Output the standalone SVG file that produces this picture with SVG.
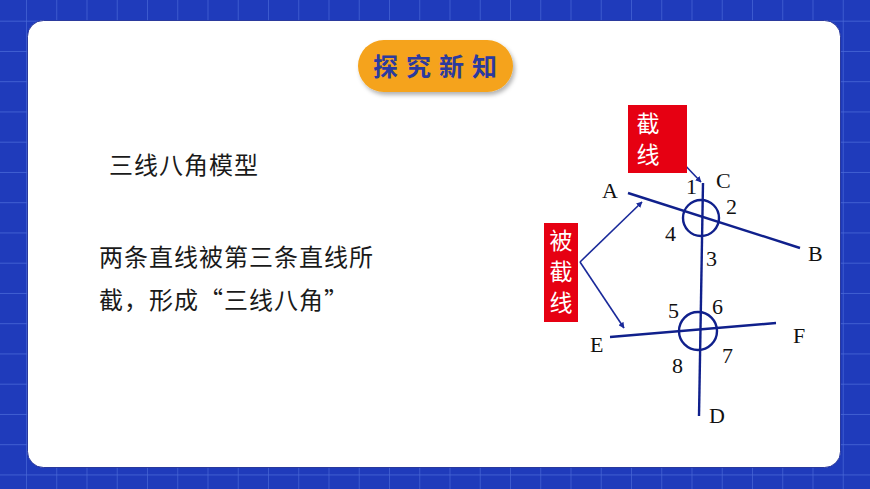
<svg xmlns="http://www.w3.org/2000/svg" width="870" height="489" viewBox="0 0 870 489">
<defs>
<pattern id="grid" x="26" y="20.7" width="30.25" height="30.25" patternUnits="userSpaceOnUse">
<rect width="30.25" height="30.25" fill="#1f3bbb"/>
<path d="M0 0H30.25M0 0V30.25" stroke="#4a6ad8" stroke-width="1.3" fill="none"/>
</pattern>
<marker id="ah" viewBox="0 0 10 10" refX="9" refY="5" markerWidth="6" markerHeight="6" orient="auto" markerUnits="userSpaceOnUse">
<path d="M0 0L10 5L0 10z" fill="#1a2a9a"/>
</marker>
<filter id="sh" x="-10%" y="-20%" width="130%" height="150%">
<feDropShadow dx="2" dy="3" stdDeviation="2" flood-color="#000" flood-opacity="0.3"/>
</filter>
</defs>
<style>
.cj{font-family:"Noto Sans CJK SC","Noto Sans",sans-serif;fill:#1a1a1a;font-size:24px;letter-spacing:1px}
.lb{font-family:"Liberation Serif","Times New Roman",serif;font-size:22px;fill:#111}
.ln{stroke:#10208c;stroke-width:2.4;fill:none}
.ar{stroke:#1a2a9a;stroke-width:1.6;fill:none}
.rb{fill:#e60012}
.wt{font-family:"Noto Sans CJK SC",sans-serif;font-size:23px;fill:#fff;writing-mode:vertical-rl;letter-spacing:8px}
</style>
<rect width="870" height="489" fill="url(#grid)"/>
<rect x="27.5" y="20.5" width="813" height="447" rx="16" fill="#fff" stroke="#10208c" stroke-width="0.8"/>
<g id="title">
<rect x="358" y="40" width="155" height="52" rx="26" fill="#f5a31a" filter="url(#sh)"/>
<text x="439" y="76" text-anchor="middle" font-family="'Noto Sans CJK SC',sans-serif" font-weight="bold" font-size="25" fill="#2b3a9f" letter-spacing="8">探究新知</text>
</g>
<g id="text1"><text class="cj" x="109" y="174">三线八角模型</text></g>
<g id="text2">
<text class="cj" x="99" y="266">两条直线被第三条直线所</text>
<text class="cj" x="99" y="309">截，形成“三线八角”</text>
</g>
<g id="lines">
<line class="ln" x1="703" y1="183" x2="699" y2="416"/>
<line class="ln" x1="628" y1="193" x2="800" y2="248"/>
<line class="ln" x1="610" y1="337" x2="776" y2="323"/>
<circle class="ln" cx="701" cy="218" r="18"/>
<circle class="ln" cx="698" cy="331" r="19"/>
</g>
<g id="connectors">
<line class="ar" x1="658" y1="137" x2="701" y2="182" marker-end="url(#ah)"/>
<line class="ar" x1="580" y1="262" x2="642" y2="202" marker-end="url(#ah)"/>
<line class="ar" x1="580" y1="262" x2="624" y2="328" marker-end="url(#ah)"/>
</g>
<g id="jiexian">
<rect class="rb" x="628" y="105" width="59" height="68"/>
<text class="wt" x="648" y="112">截线</text>
</g>
<g id="beijiexian">
<rect class="rb" x="544" y="223" width="34" height="99"/>
<text class="wt" x="561" y="229">被截线</text>
</g>
<g id="labels">
<text class="lb" x="602" y="198">A</text>
<text class="lb" x="716" y="188">C</text>
<text class="lb" x="686" y="194">1</text>
<text class="lb" x="726" y="214">2</text>
<text class="lb" x="665" y="241">4</text>
<text class="lb" x="706" y="266">3</text>
<text class="lb" x="808" y="261">B</text>
<text class="lb" x="668" y="318">5</text>
<text class="lb" x="712" y="314">6</text>
<text class="lb" x="793" y="343">F</text>
<text class="lb" x="590" y="352">E</text>
<text class="lb" x="722" y="363">7</text>
<text class="lb" x="672" y="373">8</text>
<text class="lb" x="709" y="423">D</text>
</g>
</svg>
